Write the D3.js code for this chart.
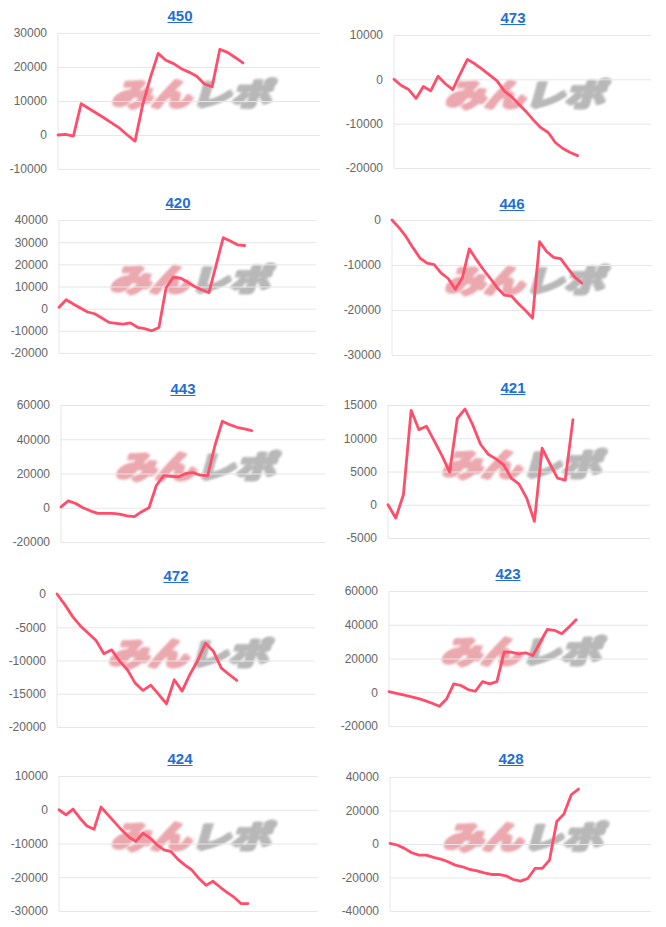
<!DOCTYPE html>
<html><head><meta charset="utf-8">
<script src="https://cdn.jsdelivr.net/npm/d3@7"></script>
<style>body{margin:0;background:#fff}svg{display:block}</style>
</head><body>
<script>
// ---- data ----
const titles = ["450","473","420","446","443","421","472","423","424","428"];

const s450 = [0,200,-300,9200,7800,6400,5000,3500,2000,0,-1800,9000,17000,24000,22000,21000,19500,18500,17300,15000,14200,25200,24300,22800,21200];
const s473 = [0,-1400,-2300,-4300,-1600,-2600,700,-1000,-2300,1200,4500,3500,2300,1000,-300,-2600,-3900,-5600,-7300,-9200,-10900,-12000,-14300,-15600,-16500,-17200];
const s420 = [600,4000,2100,300,-1500,-2300,-4200,-6200,-6600,-7000,-6400,-8400,-9000,-10000,-8500,9400,14200,13800,12000,10000,8500,7200,19500,32000,30500,28800,28500];
const s446 = [0,-1700,-3700,-6200,-8500,-9600,-9900,-11800,-13000,-15400,-12900,-6400,-8800,-11000,-13000,-15100,-16700,-16900,-18600,-20100,-21800,-4800,-7000,-8300,-8600,-10700,-12700,-14000];
const s443 = [500,4000,2500,0,-1800,-3300,-3300,-3300,-3700,-4700,-5200,-2300,0,13000,18800,18400,18000,20000,20500,19000,18700,36500,50500,48500,47000,46000,45000];
const s421 = [0,-2000,1500,14200,11300,11800,9600,7400,4900,13000,14400,12000,9100,7600,6900,6000,4000,3100,1000,-2500,8500,6200,4000,3700,12800];
const s472 = [0,-1600,-3400,-4800,-5900,-7000,-9000,-8400,-10100,-11400,-13400,-14500,-13700,-15100,-16500,-12900,-14600,-12100,-10000,-7400,-8600,-11100,-12100,-13000];
const s423 = [400,-600,-1600,-2600,-3600,-5000,-6500,-8300,-4000,5000,4000,1600,600,6300,5000,6300,23800,23800,22800,23400,21800,29500,37300,36700,34700,38600,43000];
const s424 = [0,-1500,200,-2500,-4800,-5800,800,-1500,-3800,-6100,-8100,-9400,-6900,-8400,-10400,-11900,-12400,-14700,-16400,-17900,-20400,-22400,-21200,-22900,-24500,-25900,-27800,-27800];
const s428 = [400,-600,-2600,-5200,-6600,-6600,-8000,-9000,-10600,-12600,-13600,-15200,-16000,-17200,-18200,-18200,-19000,-21200,-22200,-20600,-14600,-14600,-9600,13400,18000,29400,32800];

const t450 = [-10000,0,10000,20000,30000];
const t473 = [-20000,-10000,0,10000];
const t420 = [-20000,-10000,0,10000,20000,30000,40000];
const t446 = [-30000,-20000,-10000,0];
const t443 = [-20000,0,20000,40000,60000];
const t421 = [-5000,0,5000,10000,15000];
const t472 = [-20000,-15000,-10000,-5000,0];
const t423 = [-20000,0,20000,40000,60000];
const t424 = [-30000,-20000,-10000,0,10000];
const t428 = [-40000,-20000,0,20000,40000];

const seriesList = [s450,s473,s420,s446,s443,s421,s472,s423,s424,s428];
const tickList = [t450,t473,t420,t446,t443,t421,t472,t423,t424,t428];
const extraSlots = 10; // empty category slots after the data

// ---- layout (plot rectangles and title positions) ----
const layout = [
  {x0:58, x1:320, y0:33,  y1:169, tx:180, ty:15},
  {x0:394,x1:651, y0:35,  y1:168, tx:513, ty:17},
  {x0:59, x1:316, y0:220, y1:353, tx:178, ty:202},
  {x0:392,x1:652, y0:220, y1:355, tx:512, ty:203},
  {x0:61, x1:325, y0:405, y1:542, tx:183, ty:388},
  {x0:388,x1:650, y0:405, y1:538, tx:513, ty:387},
  {x0:57, x1:315, y0:594, y1:727, tx:176, ty:575},
  {x0:389,x1:648, y0:591, y1:726, tx:508, ty:573},
  {x0:59, x1:318, y0:776, y1:911, tx:180, ty:758},
  {x0:390,x1:651, y0:777, y1:911, tx:511, ty:758}
];

const svg = d3.select('body').append('svg').attr('width',666).attr('height',927);
const defs = svg.append('defs');
defs.append('filter').attr('id','blur').attr('x','-10%').attr('y','-30%').attr('width','120%').attr('height','160%')
  .append('feGaussianBlur').attr('stdDeviation',1.2);

seriesList.forEach((vals, i) => {
  const L = layout[i];
  const ticks = tickList[i];
  const x = d3.scalePoint().domain(d3.range(vals.length + extraSlots)).range([L.x0, L.x1]);
  const y = d3.scaleLinear().domain([ticks[0], ticks[ticks.length-1]]).range([L.y1, L.y0]);
  const g = svg.append('g');

  // watermark
  const cx = (L.x0+L.x1)/2 + 6, cy = (L.y0+L.y1)/2 - 9;
  const wm = g.append('text')
    .attr('transform', `translate(${cx},${cy}) skewX(-16) scale(1.05,0.8)`)
    .attr('text-anchor','middle').attr('dominant-baseline','central')
    .attr('font-family','"Noto Sans CJK JP"').attr('font-weight','bold')
    .attr('font-size',38).attr('letter-spacing',0)
    .attr('stroke-linejoin','round')
    .attr('filter','url(#blur)');
  wm.append('tspan').attr('fill','#eba8ae').attr('stroke','#eba8ae').attr('stroke-width',4.5).text('みん');
  wm.append('tspan').attr('fill','#b8b8b8').attr('stroke','#b8b8b8').attr('stroke-width',4.5).text('レポ');

  // y axis with gridlines
  const ax = d3.axisLeft(y).tickValues(ticks).tickSize(-(L.x1-L.x0)).tickPadding(11)
    .tickFormat(d => String(d));
  const ag = g.append('g').attr('transform', `translate(${L.x0},0)`).call(ax);
  ag.select('.domain').remove();
  ag.selectAll('.tick line').attr('stroke','#e6e6e6').attr('stroke-width',1);
  ag.selectAll('.tick text').attr('fill','#666').attr('font-size',12)
    .attr('font-family','"Liberation Sans", Arial, Helvetica, sans-serif');
  // left axis line
  g.append('line').attr('x1',L.x0).attr('x2',L.x0).attr('y1',L.y0).attr('y2',L.y1)
    .attr('stroke','#e6e6e6');

  // data line
  const line = d3.line().x((d,k) => x(k)).y(d => y(d));
  g.append('path').datum(vals).attr('d', line).attr('fill','none')
    .attr('stroke','#ff4d6a').attr('stroke-width',2.8)
    .attr('stroke-linejoin','round').attr('stroke-linecap','round');

  // title (link style)
  const tt = g.append('text').attr('x',L.tx).attr('y',L.ty).attr('text-anchor','middle')
    .attr('dominant-baseline','central')
    .attr('font-family','"Liberation Sans", Arial, Helvetica, sans-serif')
    .attr('font-weight','bold').attr('font-size',15).attr('fill','#1f6fd6')
    .text(titles[i]);
  const w = tt.node().getComputedTextLength();
  g.append('line').attr('x1',L.tx-w/2).attr('x2',L.tx+w/2)
    .attr('y1',L.ty+7.5).attr('y2',L.ty+7.5).attr('stroke','#1f6fd6').attr('stroke-width',1);
});
</script>
</body></html>
